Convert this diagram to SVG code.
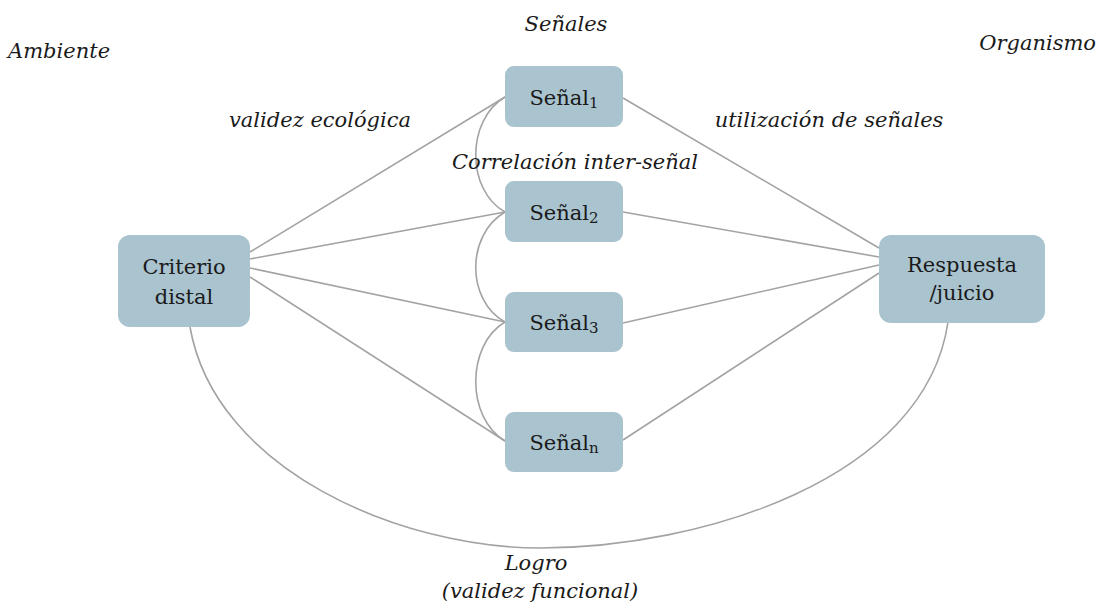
<svg xmlns="http://www.w3.org/2000/svg" width="1100" height="611" viewBox="0 0 1100 611">
  <style>
    .box { fill: #a9c3cf; }
    .lbl { font-family: "DejaVu Serif", "Liberation Serif", serif; font-size: 21px; fill: #1a1a1a; text-anchor: middle; }
    .cap { font-family: "DejaVu Serif", "Liberation Serif", serif; font-style: italic; font-size: 21px; fill: #1a1a1a; }
    .sub { font-size: 15px; }
    .edge { fill: none; stroke: #a3a3a3; stroke-width: 1.6; }
  </style>
  <rect width="1100" height="611" fill="#ffffff"/>

  <!-- connectors -->
  <g id="connectors">
    <!-- ecological validity: criterion to cues -->
    <path class="edge" d="M250 252 L505 97"/>
    <path class="edge" d="M250 259 L505 212"/>
    <path class="edge" d="M250 268 L505 322"/>
    <path class="edge" d="M250 277 L505 441"/>
    <!-- cue utilization: cues to response -->
    <path class="edge" d="M623 98 L879 248"/>
    <path class="edge" d="M623 212 L879 257"/>
    <path class="edge" d="M623 323 L879 265"/>
    <path class="edge" d="M623 440 L879 273"/>
    <!-- inter-cue correlation -->
    <path class="edge" d="M505 97 C466 120 466 190 505 212"/>
    <path class="edge" d="M505 212 C466 235 466 300 505 322"/>
    <path class="edge" d="M505 322 C466 345 466 418 505 441"/>
    <!-- achievement -->
    <path class="edge" d="M190 327 C215 470 400 548 540 548 C700 548 925 480 948 322"/>
  </g>

  <!-- nodes -->
  <g id="criterio">
    <rect class="box" x="118" y="235" width="132" height="92" rx="12"/>
    <text class="lbl" x="184" y="274">Criterio</text>
    <text class="lbl" x="184" y="304">distal</text>
  </g>
  <g id="respuesta">
    <rect class="box" x="879" y="235" width="166" height="88" rx="12"/>
    <text class="lbl" x="962" y="272">Respuesta</text>
    <text class="lbl" x="962" y="300">/juicio</text>
  </g>
  <g id="senal1">
    <rect class="box" x="505" y="66" width="118" height="61" rx="9"/>
    <text class="lbl" x="564" y="105">Señal<tspan class="sub" dy="3">1</tspan></text>
  </g>
  <g id="senal2">
    <rect class="box" x="505" y="181" width="118" height="61" rx="9"/>
    <text class="lbl" x="564" y="220">Señal<tspan class="sub" dy="3">2</tspan></text>
  </g>
  <g id="senal3">
    <rect class="box" x="505" y="292" width="118" height="60" rx="9"/>
    <text class="lbl" x="564" y="330">Señal<tspan class="sub" dy="3">3</tspan></text>
  </g>
  <g id="senaln">
    <rect class="box" x="505" y="412" width="118" height="60" rx="9"/>
    <text class="lbl" x="564" y="450">Señal<tspan class="sub" dy="3">n</tspan></text>
  </g>

  <!-- captions -->
  <g id="captions">
    <text class="cap" x="8" y="58">Ambiente</text>
    <text class="cap" x="566" y="31" text-anchor="middle">Señales</text>
    <text class="cap" x="1096" y="50" text-anchor="end">Organismo</text>
    <text class="cap" x="320" y="127" text-anchor="middle">validez ecológica</text>
    <text class="cap" x="829" y="127" text-anchor="middle">utilización de señales</text>
    <text class="cap" x="575" y="169" text-anchor="middle">Correlación inter-señal</text>
    <text class="cap" x="536" y="570" text-anchor="middle">Logro</text>
    <text class="cap" x="540" y="598" text-anchor="middle">(validez funcional)</text>
  </g>
</svg>
